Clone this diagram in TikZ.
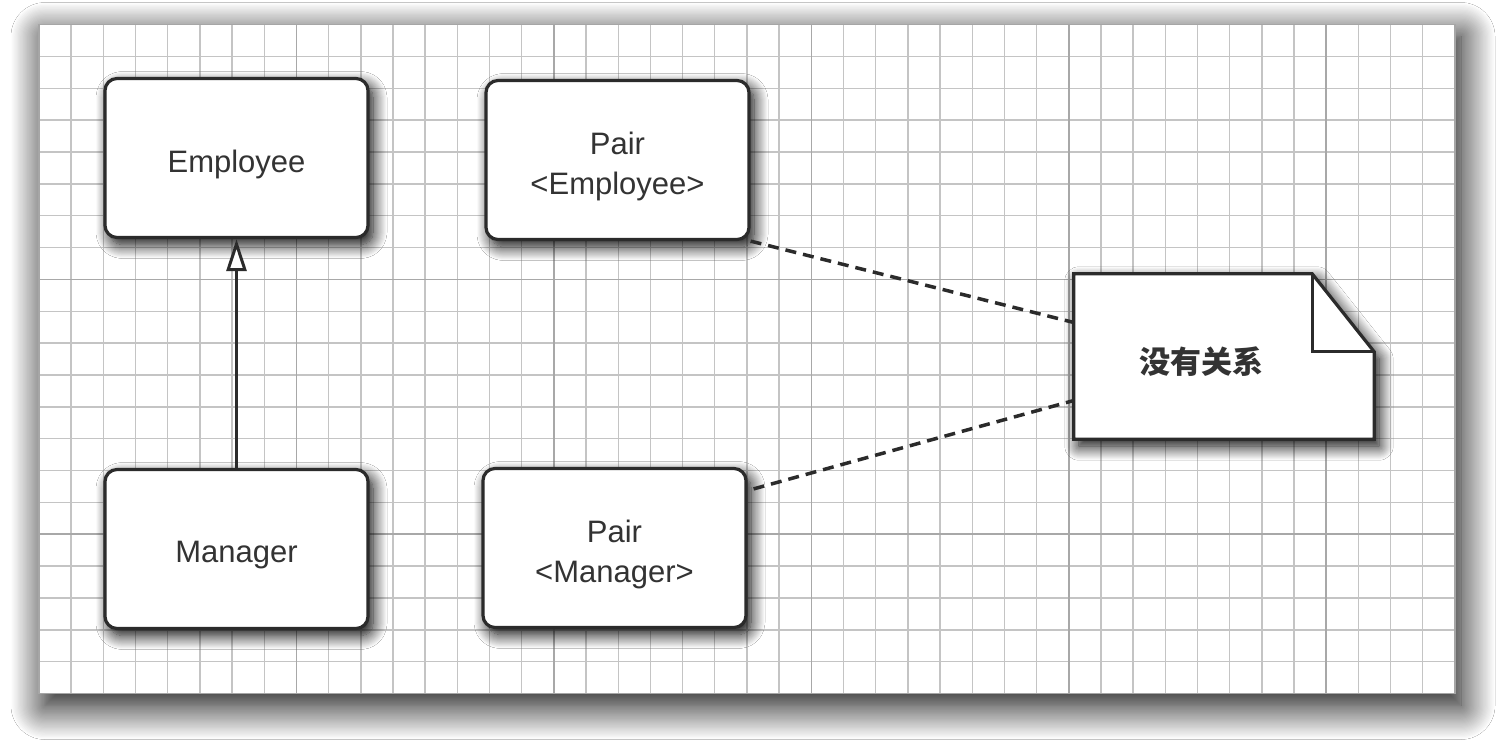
\documentclass[tikz,border=0pt]{standalone}
\usepackage{fontspec}
\setmainfont{Liberation Sans}
\newfontfamily\cjk{Noto Sans CJK SC}
\usetikzlibrary{arrows.meta,shadows.blur}
\definecolor{ink}{HTML}{2B2B2B}
\definecolor{txt}{HTML}{333333}
\definecolor{gridc}{HTML}{C4C4C4}
\definecolor{gridm}{HTML}{A8A8A8}
\begin{document}
\begin{tikzpicture}[x=1pt,y=-1pt,
  boxshadow/.style={blur shadow={shadow xshift=5pt, shadow yshift=-7pt, shadow blur radius=14pt, shadow blur steps=14, shadow opacity=100}},
  panelshadow/.style={blur shadow={shadow xshift=6pt, shadow yshift=-12pt, shadow blur radius=34pt, shadow blur steps=30, shadow opacity=100}},
  classbox/.style={draw=ink, line width=3.2pt, fill=white, rounded corners=12pt,
    minimum width=263pt, minimum height=159pt, boxshadow,
    label={[text=txt, align=center, font=\fontsize{31}{40}\selectfont, yshift=-6pt]center:#1}},
  notearea/.style={minimum width=300pt, minimum height=165pt, inner sep=0pt},
  notetext/.style={text=txt, font=\cjk\bfseries\fontsize{31}{36}\selectfont},
  minorline/.style={draw=gridc, line width=1.4pt},
  majorline/.style={draw=gridm, line width=1.6pt},
  relation/.style={draw=ink, line width=3.5pt, dash pattern=on 11pt off 7pt},
  inherit/.style={draw=ink, line width=3pt, -{Triangle[open, length=32pt, width=20pt, fill=white, line width=3pt]}}
]
\useasboundingbox (0,0) rectangle (1508,750);
\fill[white] (0,0) rectangle (1508,750);
% panel with its shadow
\fill[white, panelshadow] (39,24.5) rectangle (1455,693.5);
\foreach \i in {0,...,44}
  \draw[minorline] ({39+32.18*\i},24.5) -- ({39+32.18*\i},693.5);
\foreach \j in {0,...,21}
  \draw[minorline] (39,{24.5+31.86*\j}) -- (1455,{24.5+31.86*\j});
\foreach \i in {8,16,...,40}
  \draw[majorline] ({39+32.18*\i},24.5) -- ({39+32.18*\i},693.5);
\foreach \j in {8,16}
  \draw[majorline] (39,{24.5+31.86*\j}) -- (1455,{24.5+31.86*\j});
\draw[draw=gray!70, line width=1.4pt] (39,24.5) rectangle (1455,693.5);

% class boxes
\node[classbox={Employee}] (E)  at (236.5,158) {};
\node[classbox={Manager}]  (M)  at (236.5,549) {};
\node[classbox={Pair\\\textless Employee\textgreater}] (PE) at (617.5,160) {};
\node[classbox={Pair\\\textless Manager\textgreater}]  (PM) at (614.5,548) {};

% note
\node[notearea] (note) at (1224,356.5) {};
\draw[draw=ink, line width=3.2pt, fill=white, line join=miter, boxshadow]
  (note.north west) -- ([xshift=-62pt]note.north east) -- ([yshift=-78pt]note.north east)
  -- (note.south east) -- (note.south west) -- cycle;
\draw[draw=ink, line width=3.2pt, line join=miter]
  ([xshift=-62pt]note.north east) -- ([shift={(-62pt,-78pt)}]note.north east) -- ([yshift=-78pt]note.north east);
\node[notetext] (notelabel) at (1201,362) {没有关系};

% connectors
\draw[inherit] (M.north) -- (E.south);
\draw[relation] (PE.south east) -- ([yshift=34pt]note.west);
\draw[relation] ([shift={(6pt,-22pt)}]PM.north east) -- ([yshift=-44pt]note.west);
\end{tikzpicture}
\end{document}
